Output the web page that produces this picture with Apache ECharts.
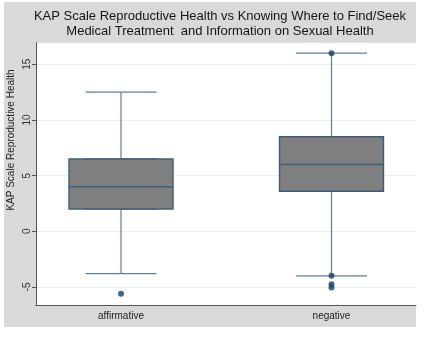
<!DOCTYPE html>
<html>
<head>
<meta charset="utf-8">
<script src="https://cdn.jsdelivr.net/npm/echarts@6/dist/echarts.min.js"></script>
<style>
  html, body { margin: 0; padding: 0; background: #fff; }
  #chart { width: 426px; height: 337px; }
</style>
</head>
<body>
<div id="chart"></div>
<script>
// values
const categories = ['affirmative', 'negative'];
const whiskerLow = [-3.8, -4.0];
const q1 = [2.0, 3.6];
const median = [4.0, 6.0];
const q3 = [6.5, 8.5];
const whiskerHigh = [12.5, 16.0];
const outliers = [
  ['affirmative', -5.6],
  ['negative', 16.0],
  ['negative', -4.0],
  ['negative', -4.75],
  ['negative', -5.05]
];
const yTicks = [-5, 0, 5, 10, 15];
const yMin = -6.68;
const yMax = 16.94;

const fullData = categories.map((c, i) => [whiskerLow[i], q1[i], median[i], q3[i], whiskerHigh[i]]);
const boxData = categories.map((c, i) => [q1[i], q1[i], median[i], q3[i], q3[i]]);

const font = 'Liberation Sans, Arial, sans-serif';
const chart = echarts.init(document.getElementById('chart'));

chart.setOption({
  animation: false,
  graphic: [
    { type: 'rect', z: -100, shape: { x: 4, y: 2, width: 412, height: 325 }, style: { fill: '#d9d9d9' } },
    {
      type: 'text', x: 220, y: 9, z: 10,
      style: {
        text: 'KAP Scale Reproductive Health vs Knowing Where to Find/Seek\nMedical Treatment  and Information on Sexual Health',
        align: 'center', verticalAlign: 'top', fontSize: 13, lineHeight: 15,
        fontFamily: font, fill: '#151515'
      }
    },
    {
      type: 'text', x: 11, y: 140, rotation: Math.PI / 2, z: 10,
      style: {
        text: 'KAP Scale Reproductive Health', align: 'center', verticalAlign: 'middle',
        fontSize: 10, fontFamily: font, fill: '#222'
      }
    }
  ],
  grid: [
    { left: 36, right: 10, top: 42.7, bottom: 31.3, show: true, backgroundColor: '#fff', borderWidth: 0, outerBoundsMode: 'none' },
    { left: 15.75, width: 421, top: 42.7, bottom: 31.3, outerBoundsMode: 'none' }
  ],
  xAxis: [
    {
      gridIndex: 0, type: 'value', min: 0, max: 1,
      axisLine: { show: true, onZero: false, lineStyle: { color: '#555', width: 1 } },
      axisTick: { show: false }, axisLabel: { show: false }, splitLine: { show: false }
    },
    {
      gridIndex: 1, type: 'category', data: categories,
      axisLine: { show: false, onZero: false }, axisTick: { show: false },
      axisLabel: { margin: 6, fontSize: 10, color: '#222', fontFamily: font },
      splitLine: { show: false }
    },
    {
      gridIndex: 1, type: 'category', data: categories, show: false
    }
  ],
  yAxis: [
    {
      gridIndex: 0, type: 'value', min: yMin, max: yMax,
      axisLine: { show: true, onZero: false, lineStyle: { color: '#555', width: 1 } },
      axisTick: { show: true, length: 4, customValues: yTicks, lineStyle: { color: '#555' } },
      axisLabel: { customValues: yTicks, rotate: 90, margin: 4, fontSize: 10, color: '#333', fontFamily: font },
      splitLine: { show: true, lineStyle: { color: '#e8f1f2', width: 1 } }
    },
    { gridIndex: 1, type: 'value', min: yMin, max: yMax, show: false, splitLine: { show: false } }
  ],
  series: [
    {
      type: 'boxplot', xAxisIndex: 2, yAxisIndex: 1, data: fullData,
      boxWidth: [71, 71],
      itemStyle: { color: '#808080', borderColor: '#5f7f9f', borderWidth: 1.2 },
      emphasis: { disabled: true }
    },
    {
      type: 'boxplot', xAxisIndex: 1, yAxisIndex: 1, data: boxData,
      boxWidth: [104, 104],
      itemStyle: { color: '#808080', borderColor: '#3f5c7a', borderWidth: 1.4 },
      emphasis: { disabled: true }
    },
    {
      type: 'scatter', xAxisIndex: 1, yAxisIndex: 1, data: outliers,
      symbolSize: 6, itemStyle: { color: '#16406a' },
      emphasis: { disabled: true }
    }
  ]
});
</script>
</body>
</html>
